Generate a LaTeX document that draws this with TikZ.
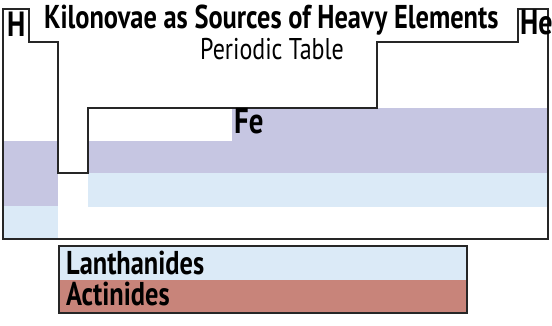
\documentclass[tikz,border=0pt]{standalone}
\usepackage{fontspec}
\setmainfont{PT Sans}[FakeStretch=0.8]
\usetikzlibrary{positioning}

\definecolor{heavyblue}{RGB}{198,198,226}
\definecolor{lanthblue}{RGB}{219,234,247}
\definecolor{actinred}{RGB}{200,132,122}

\begin{document}
\begin{tikzpicture}[x=1pt, y=-1pt,
		every node/.style={inner sep=0pt, anchor=base west},
		bigsym/.style={font=\bfseries\fontsize{35}{35}\selectfont},
		legtext/.style={font=\bfseries\fontsize{33}{33}\selectfont},
		outline/.style={draw=black!85, line width=2pt, line join=miter}]
	\useasboundingbox (0,0) rectangle (552,326);
	% coloured bands of the table
	\fill[heavyblue] (232,108) rectangle (548,141);
	\fill[heavyblue] (88,141) rectangle (548,173);
	\fill[heavyblue] (3,141) rectangle (58,206);
	\fill[lanthblue] (88,173) rectangle (548,207);
	\fill[lanthblue] (3,206) rectangle (58,239);
	% outline of the table, one path
	\draw[outline] (3,9) -- (29,9) -- (29,42) -- (58,42) -- (58,173)
		-- (88,173) -- (88,108) -- (377,108) -- (377,42) -- (518,42)
		-- (518,9) -- (548,9) -- (548,239) -- (3,239) -- cycle;
	\node[bigsym] (hyd) at (7,37) {H};
	\node[bigsym] (hel) at (520,35) {He};
	\node[font=\bfseries\fontsize{33}{33}\selectfont] (title) at (44,29) {Kilonovae as Sources of Heavy Elements};
	\node[font=\fontsize{30}{30}\selectfont] (sub) at (200,60) {Periodic Table};
	\node[font=\bfseries\fontsize{36}{36}\selectfont] (iron) at (234,134) {Fe};
	% legend
	\fill[lanthblue] (59,246) rectangle (467,280);
	\fill[actinred] (59,280) rectangle (467,313);
	\draw[outline] (59,246) rectangle (467,313);
	\node[legtext] (lanth) at (66,274) {Lanthanides};
	\node[legtext] (actin) at (66,305) {Actinides};
\end{tikzpicture}
\end{document}
